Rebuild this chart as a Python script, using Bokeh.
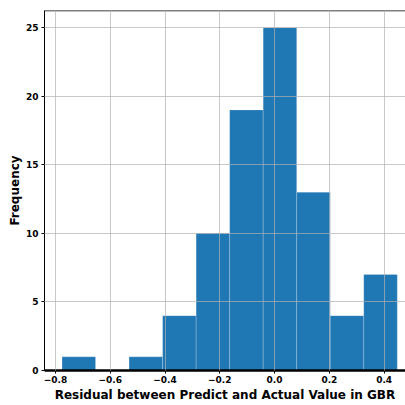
from bokeh.plotting import figure
from bokeh.models import Range1d, FixedTicker, Span
from bokeh.embed import file_html
from bokeh.resources import INLINE

# Histogram data
bin_start = -0.776
bin_width = 0.1224
counts = [1, 0, 1, 4, 10, 19, 25, 13, 4, 7]
x_ticks = [-0.8, -0.6, -0.4, -0.2, 0.0, 0.2, 0.4]
x_tick_labels = ["\u22120.8", "\u22120.6", "\u22120.4", "\u22120.2", "0.0", "0.2", "0.4"]
y_ticks = [0, 5, 10, 15, 20, 25]

lefts = [bin_start + i * bin_width for i in range(len(counts))]
rights = [l + bin_width for l in lefts]

p = figure(width=405, height=405, output_backend="svg", toolbar_location=None,
           x_range=Range1d(-0.840, 0.478), y_range=Range1d(0, 26.25),
           min_border_left=44, min_border_right=0, min_border_top=10, min_border_bottom=35)
p.outline_line_color = None

p.quad(left=lefts, right=rights, bottom=0, top=counts,
       fill_color="#1f77b4", line_color="white", line_alpha=0.35, line_width=0.6)

p.xaxis.ticker = FixedTicker(ticks=x_ticks)
p.xaxis.major_label_overrides = {t: l for t, l in zip(x_ticks, x_tick_labels)}
p.yaxis.ticker = FixedTicker(ticks=y_ticks)

for ax in (p.xaxis[0], p.yaxis[0]):
    ax.major_label_text_font = "DejaVu Sans"
    ax.major_label_text_font_size = "9px"
    ax.major_label_text_font_style = "bold"
    ax.major_label_text_color = "black"
    ax.axis_label_text_font = "DejaVu Sans"
    ax.axis_label_text_font_size = "12px"
    ax.axis_label_text_font_style = "bold"
    ax.axis_label_text_color = "black"
    ax.minor_tick_line_color = None
    ax.major_tick_in = 0
    ax.major_tick_out = 3
    ax.major_tick_line_color = "black"
    ax.axis_line_color = "black"

p.xaxis.axis_line_width = 2.5
p.xaxis.axis_label = "Residual between Predict and Actual Value in GBR"
p.xaxis.axis_label_standoff = 2
p.xaxis.major_label_standoff = 2
p.yaxis.axis_label = "Frequency"
p.yaxis.axis_label_standoff = 1
p.yaxis.major_label_standoff = 3

p.xgrid.ticker = FixedTicker(ticks=x_ticks)
p.ygrid.ticker = FixedTicker(ticks=y_ticks)
for g in (p.xgrid[0], p.ygrid[0]):
    g.grid_line_color = "#b0b0b0"
    g.grid_line_alpha = 0.7
    g.grid_line_width = 1
    g.level = "overlay"

p.add_layout(Span(location=26.25, dimension="width", line_color="black", line_width=1.5))

open("out.html", "w").write(file_html(p, INLINE))
